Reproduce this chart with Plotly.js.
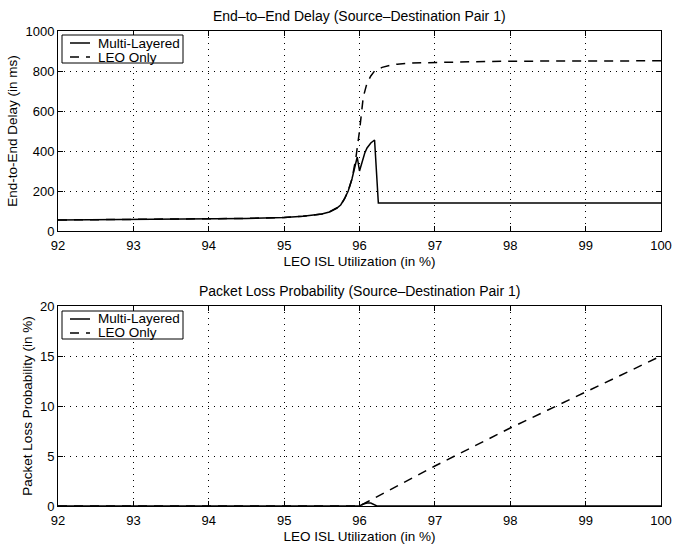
<!DOCTYPE html>
<html>
<head>
<meta charset="utf-8">
<script src="https://cdn.plot.ly/plotly-3.0.1.min.js"></script>
<style>html,body{margin:0;padding:0;background:#fff;}#chart{width:673px;height:547px;}</style>
</head>
<body>
<div id="chart"></div>
<script>
// Top panel: End-to-End Delay (ms)
const delayMultiX = [92, 92.5, 93, 93.5, 94, 94.5, 95, 95.25, 95.5, 95.6, 95.7, 95.75, 95.8, 95.85, 95.9, 95.94, 95.97, 96.0, 96.03, 96.07, 96.1, 96.15, 96.2, 96.25, 97, 98, 99, 100];
const delayMultiY = [55, 56, 57, 58, 60, 63, 68, 74, 85, 95, 115, 130, 160, 200, 260, 330, 370, 300, 345, 390, 415, 440, 455, 140, 140, 140, 140, 140];
const delayLeoX = [92, 92.5, 93, 93.5, 94, 94.5, 95, 95.25, 95.5, 95.6, 95.7, 95.75, 95.8, 95.85, 95.9, 95.95, 96.0, 96.05, 96.1, 96.15, 96.2, 96.3, 96.4, 96.5, 96.7, 97, 97.5, 98, 99, 100];
const delayLeoY = [55, 56, 57, 58, 60, 63, 68, 74, 85, 95, 115, 130, 160, 200, 260, 360, 500, 670, 740, 775, 800, 818, 828, 834, 840, 843, 846, 849, 850, 851];
// Bottom panel: Packet Loss Probability (%)
const lossMultiX = [92, 96.0, 96.05, 96.1, 96.15, 96.2, 96.23, 100];
const lossMultiY = [0, 0, 0.2, 0.3, 0.3, 0.15, 0, 0];
const lossLeoX = [92, 96.0, 96.1, 96.5, 97, 97.5, 98, 98.5, 99, 99.5, 100];
const lossLeoY = [0, 0, 0.4, 2.0, 4.0, 5.9, 7.8, 9.6, 11.4, 13.2, 15];
const xTicks = [92, 93, 94, 95, 96, 97, 98, 99, 100];
const seriesNames = ['Multi-Layered', 'LEO Only'];

const FONT = 'Liberation Sans, Arial, sans-serif';
const solid = {color: '#000', width: 1.5};
const dashed = {color: '#000', width: 1.5, dash: '9px,7px'};
const styles = [solid, dashed];

const traces = [
  {x: delayMultiX, y: delayMultiY, mode: 'lines', name: seriesNames[0], line: solid, xaxis: 'x', yaxis: 'y'},
  {x: delayLeoX, y: delayLeoY, mode: 'lines', name: seriesNames[1], line: dashed, xaxis: 'x', yaxis: 'y'},
  {x: lossMultiX, y: lossMultiY, mode: 'lines', name: seriesNames[0], line: solid, xaxis: 'x2', yaxis: 'y2'},
  {x: lossLeoX, y: lossLeoY, mode: 'lines', name: seriesNames[1], line: dashed, xaxis: 'x2', yaxis: 'y2'}
];

const axCommon = {
  showline: true, linecolor: '#000', linewidth: 1, mirror: 'ticks',
  ticks: 'inside', ticklen: 5, tickcolor: '#000', tickwidth: 1,
  showgrid: true, gridcolor: '#000', gridwidth: 1, griddash: '1px,5px',
  zeroline: false, tickfont: {family: FONT, size: 13, color: '#000'}
};
const ML = 58, MR = 12, MT = 31, MB = 41, W = 673, HH = 547;
const PW = W - ML - MR, H = HH - MT - MB;
const px = v => (v - ML) / PW;          // pixel x -> paper x
const py = v => (HH - MB - v) / H;      // pixel y -> paper y

// Hand-built legends (box, line samples, labels) for each panel
const shapes = [], annotations = [];
[35, 311].forEach(top => {
  shapes.push({type: 'rect', xref: 'paper', yref: 'paper', x0: px(62), x1: px(183), y0: py(top), y1: py(top + 28),
    line: {color: '#000', width: 1}, fillcolor: '#fff', layer: 'above'});
  seriesNames.forEach((nm, i) => {
    const yy = top + 8 + i * 14;
    shapes.push({type: 'line', xref: 'paper', yref: 'paper', x0: px(70), x1: px(90), y0: py(yy), y1: py(yy),
      line: Object.assign({}, styles[i]), layer: 'above'});
    annotations.push({text: nm, xref: 'paper', yref: 'paper', x: px(96), y: py(yy), xanchor: 'left', yanchor: 'middle',
      showarrow: false, font: {family: FONT, size: 13.5, color: '#000'}});
  });
});
annotations.push(
  {text: 'End\u2013to\u2013End Delay (Source\u2013Destination Pair 1)', xref: 'paper', yref: 'paper', x: 0.5, y: py(16), xanchor: 'center', yanchor: 'middle', showarrow: false, font: {family: FONT, size: 14, color: '#000'}},
  {text: 'Packet Loss Probability (Source\u2013Destination Pair 1)', xref: 'paper', yref: 'paper', x: 0.5, y: py(291), xanchor: 'center', yanchor: 'middle', showarrow: false, font: {family: FONT, size: 14, color: '#000'}}
);

const layout = {
  width: W, height: HH,
  margin: {l: ML, r: MR, t: MT, b: MB},
  paper_bgcolor: '#fff', plot_bgcolor: '#fff',
  showlegend: false,
  font: {family: FONT, color: '#000'},
  xaxis: Object.assign({}, axCommon, {domain: [0, 1], range: [92, 100], tickvals: xTicks, anchor: 'y', ticklabelstandoff: 2,
    title: {text: 'LEO ISL Utilization (in %)', font: {family: FONT, size: 13.5}, standoff: 4}}),
  yaxis: Object.assign({}, axCommon, {domain: [py(231), 1], range: [0, 1000], dtick: 200, anchor: 'x',
    title: {text: 'End-to-End Delay (in ms)', font: {family: FONT, size: 13.5}, standoff: 4}}),
  xaxis2: Object.assign({}, axCommon, {domain: [0, 1], range: [92, 100], tickvals: xTicks, anchor: 'y2', ticklabelstandoff: 2,
    title: {text: 'LEO ISL Utilization (in %)', font: {family: FONT, size: 13.5}, standoff: 4}}),
  yaxis2: Object.assign({}, axCommon, {domain: [0, py(306)], range: [0, 20], dtick: 5, anchor: 'x2',
    title: {text: 'Packet Loss Probability (in %)', font: {family: FONT, size: 13.5}, standoff: 4}}),
  shapes: shapes,
  annotations: annotations
};

Plotly.newPlot('chart', traces, layout, {displayModeBar: false, staticPlot: true});
</script>
</body>
</html>
